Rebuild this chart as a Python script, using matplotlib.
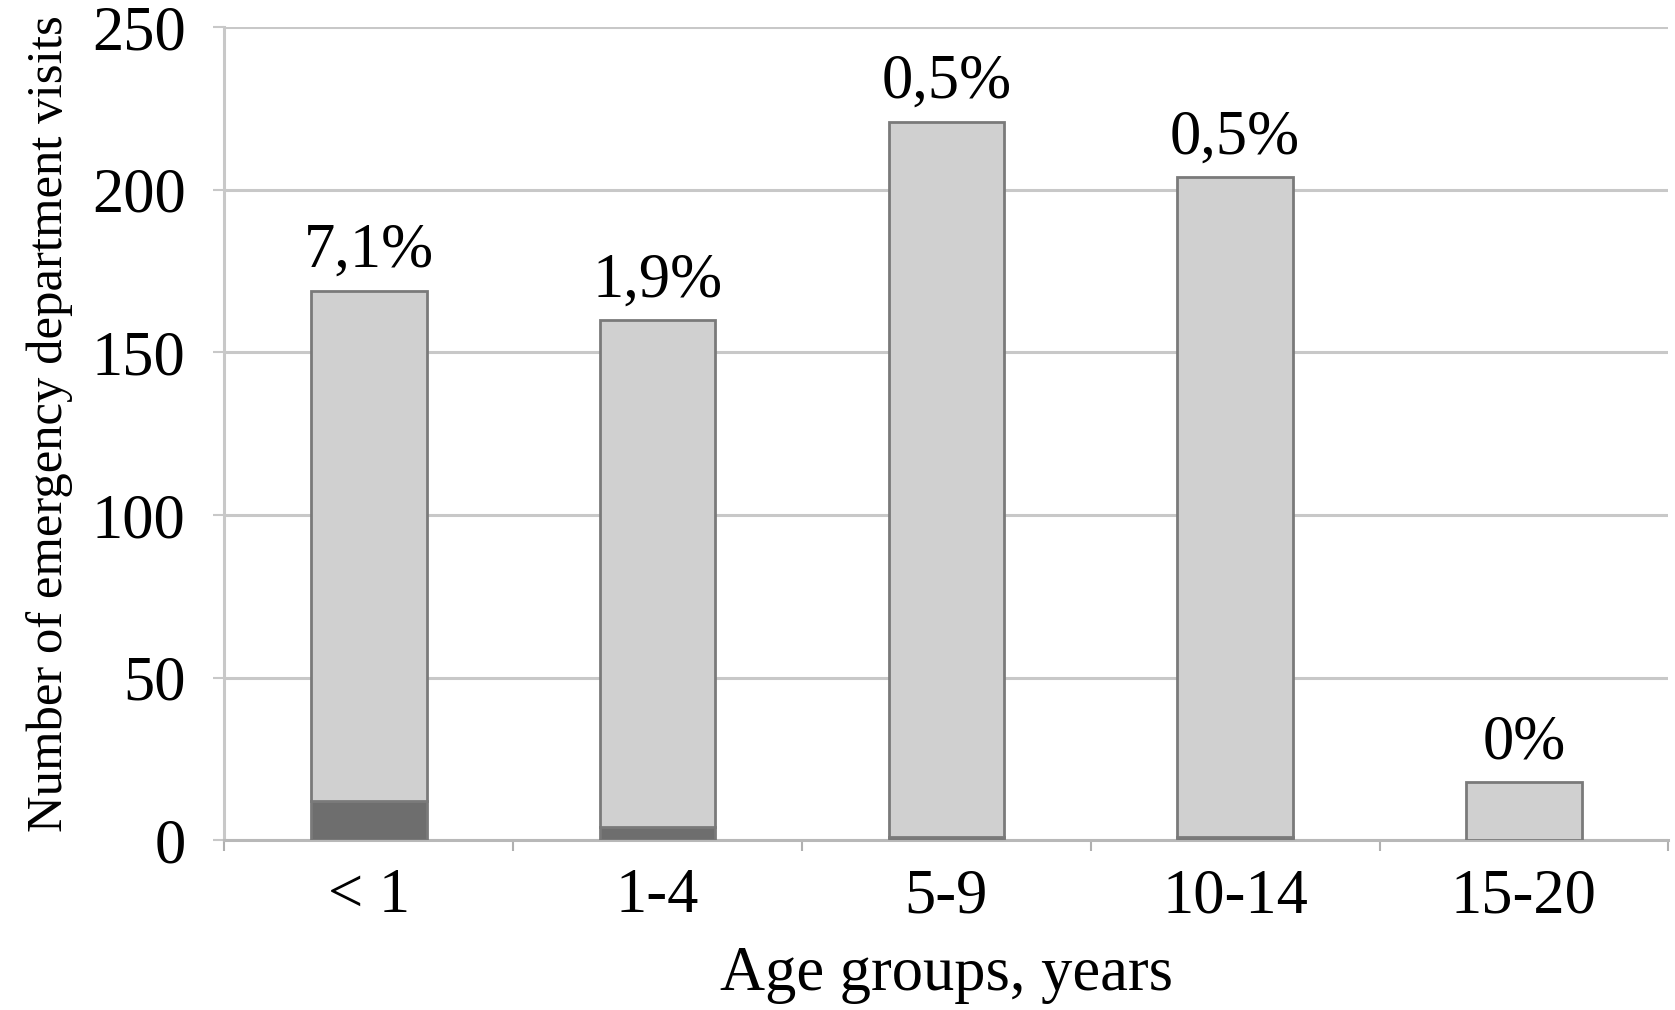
import matplotlib
matplotlib.use("Agg")
import matplotlib.pyplot as plt
import numpy as np

plt.rcParams['font.family'] = ['Liberation Serif', 'DejaVu Serif']

age_groups = ['< 1', '1-4', '5-9', '10-14', '15-20']
total_visits = [169, 160, 221, 204, 18]
dark_visits = [12, 4, 1, 1, 0]
pct_labels = ['7,1%', '1,9%', '0,5%', '0,5%', '0%']

light_visits = [t - d for t, d in zip(total_visits, dark_visits)]

fig = plt.figure(figsize=(16.75, 10.1), dpi=100)
ax = fig.add_axes([0.134, 0.168, 0.862, 0.805])

x = np.arange(len(age_groups))
w = 0.40
ax.bar(x, dark_visits, w, color='#6e6e6e', edgecolor='#7a7a7a', linewidth=2, zorder=3)
ax.bar(x, light_visits, w, bottom=dark_visits, color='#d0d0d0', edgecolor='#7a7a7a',
       linewidth=2, zorder=3)

for xi, t, lab in zip(x, total_visits, pct_labels):
    ax.annotate(lab, (xi, t), xytext=(0, 7), textcoords='offset points',
                ha='center', va='bottom', fontsize=45)

ax.set_xlim(-0.5, len(age_groups) - 0.5)
ax.set_ylim(0, 250)
ax.set_yticks([0, 50, 100, 150, 200, 250])
ax.yaxis.grid(True, color='#c8c8c8', linewidth=2.2)
ax.set_axisbelow(True)

# ticks between categories on x
ax.set_xticks(np.arange(-0.5, len(age_groups), 1.0))
ax.set_xticklabels([])
ax.set_xticks(x, minor=True)
ax.set_xticklabels(age_groups, minor=True)
ax.tick_params(axis='x', which='major', length=8, width=1.5, color='#b0b0b0')
ax.tick_params(axis='x', which='minor', length=0, pad=20, labelsize=45)
ax.tick_params(axis='y', length=8, width=1.5, color='#c8c8c8', labelsize=45, pad=20)

for s in ['top', 'right']:
    ax.spines[s].set_visible(False)
ax.spines['left'].set_color('#c8c8c8')
ax.spines['left'].set_linewidth(2.2)
ax.spines['bottom'].set_color('#b8b8b8')
ax.spines['bottom'].set_linewidth(2.2)

ax.set_xlabel('Age groups, years', fontsize=45, labelpad=14)
ax.set_ylabel('Number of emergency department visits', fontsize=36.5)
ax.yaxis.set_label_coords(-0.105, 0.512)

fig.savefig('out.png', dpi=100)
